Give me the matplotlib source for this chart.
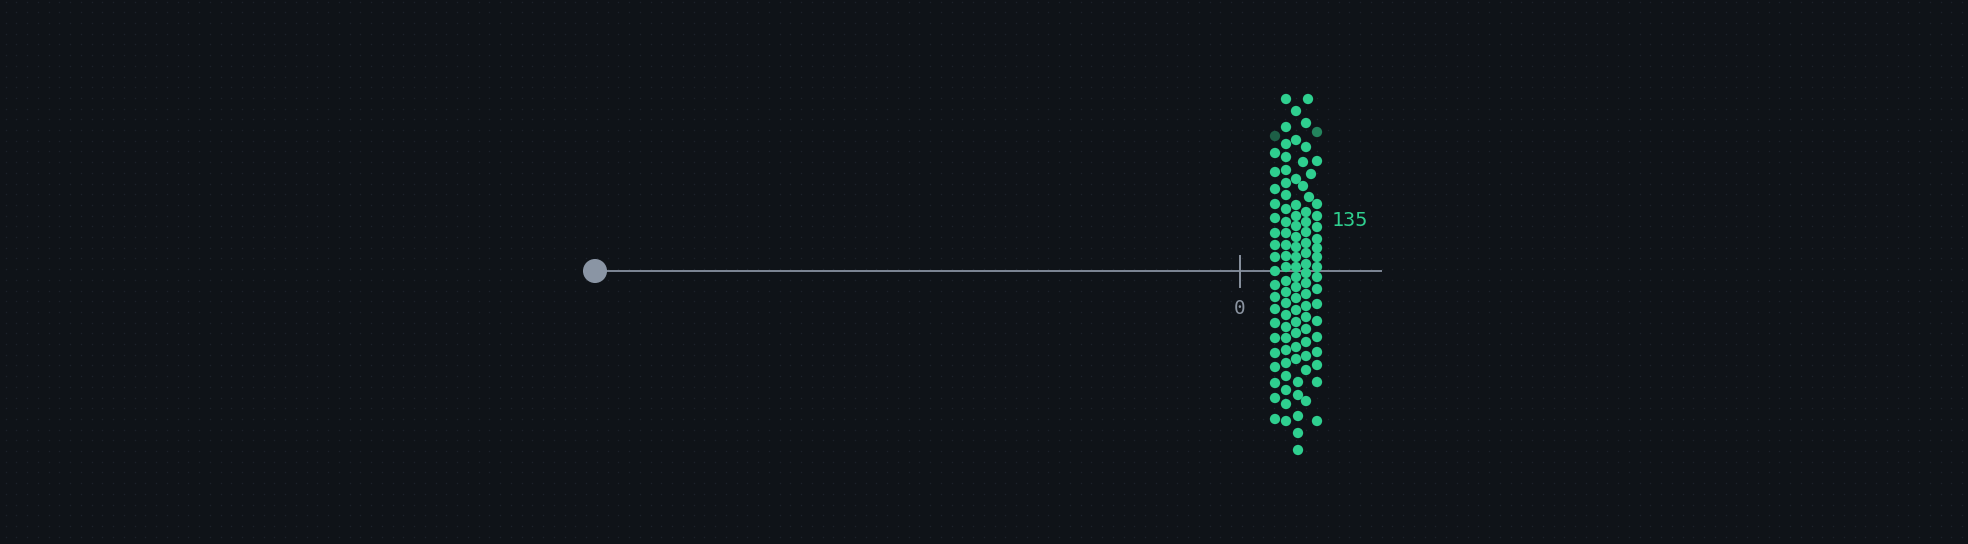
import numpy as np
import matplotlib
matplotlib.use("Agg")
import matplotlib.pyplot as plt

# ---------------- data ----------------
# horizontal value axis: start marker, tick and end (value units)
axis_start = -645
axis_end = 142
tick_values = [0]
tick_labels = ["0"]

# swarm points: x = value offset, y = spread offset
dot_x = [35] * 19 + [46] * 25 + [56] * 18 + [58] * 5 + [66, 66, 63, 71, 63, 69] + [66] * 16 + [77] * 17 + [68]
dot_y = (
    # column A
    [118, 99, 82, 67, 53, 38, 26, 14, 0, -14, -26, -38, -52, -67, -82, -96, -112, -127, -148]
    # column B
    + [172, 144, 127, 114, 101, 88, 76, 62, 49, 38, 26, 15, 4, -10, -21, -32, -44, -56, -67, -79,
       -92, -105, -119, -133, -150]
    # column C
    + [160, 131, 92, 66, 55, 45, 34, 24, 14, 4, -6, -16, -27, -39, -51, -62, -76, -88]
    + [-111, -124, -145, -162, -179]
    # column D
    + [148, 124, 109, 97, 85, 74]
    + [59, 49, 39, 28, 18, 7, -2, -12, -23, -35, -46, -58, -71, -85, -99, -130]
    # column E
    + [110, 67, 55, 44, 32, 23, 14, 4, -6, -18, -33, -50, -66, -81, -94, -111, -150]
    # top
    + [172]
)
dim_x = [35, 77]
dim_y = [135, 139]
dim_colors = ["#1d5e46", "#23845d"]

value_label = "135"
value_label_pos = (92, 51)

# ---------------- style ----------------
BG = "#0f1318"
GRID_DOT = "#1c222a"
AXIS_COL = "#7f8896"
TICK_COL = "#8a93a0"
START_COL = "#8a95a4"
GREEN = "#2fcf8f"

fig = plt.figure(figsize=(19.68, 5.44), dpi=100)
fig.patch.set_facecolor(BG)
ax = fig.add_axes([0, 0, 1, 1])
ax.set_facecolor(BG)
ax.set_xlim(-1240, 728)
ax.set_ylim(-273, 271)
ax.axis("off")

# background dot grid (decoration)
gx = np.arange(-1240 + 5.7, 728, 10.75)
gy = np.arange(271 - 1.7, -273, -10.7)
GX, GY = np.meshgrid(gx, gy)
ax.plot(GX.ravel(), GY.ravel(), linestyle="none", marker="s", markersize=1.0,
        markeredgewidth=0, color=GRID_DOT, zorder=0)

# axis line
ax.plot([axis_start, axis_end], [0, 0], color=AXIS_COL, lw=1.4, zorder=2,
        solid_capstyle="butt")
# start marker
ax.scatter([axis_start], [0], s=300, color=START_COL, edgecolors="none", zorder=3)
# ticks
for tv, tl in zip(tick_values, tick_labels):
    ax.plot([tv, tv], [-15.5, 15.5], color=TICK_COL, lw=1.4, zorder=2)
    ax.text(tv, -37, tl, color=TICK_COL, fontsize=14, family="DejaVu Sans Mono",
            ha="center", va="center", zorder=4)

# swarm
ax.scatter(dim_x, dim_y, s=55, c=dim_colors, edgecolors="none", zorder=4)
ax.scatter(dot_x, dot_y, s=55, color=GREEN, edgecolors="none", zorder=5)

ax.text(value_label_pos[0], value_label_pos[1], value_label, color=GREEN,
        fontsize=14.5, family="DejaVu Sans Mono", ha="left", va="center", zorder=6)

fig.savefig("out.png", dpi=100, facecolor=BG)
